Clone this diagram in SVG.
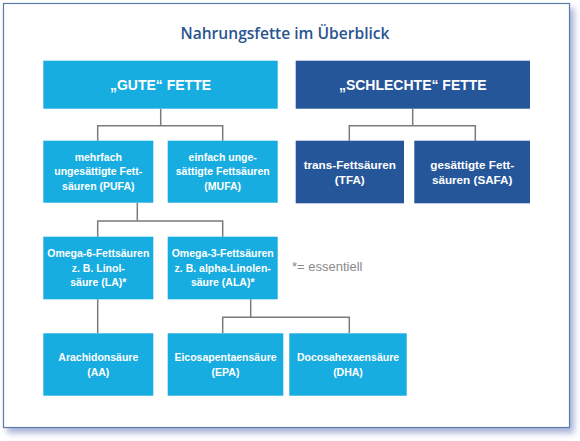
<svg xmlns="http://www.w3.org/2000/svg" width="580" height="441" viewBox="0 0 580 441">
<defs>
<filter id="sh" x="-5%" y="-5%" width="115%" height="115%"><feGaussianBlur stdDeviation="3"/></filter>
<style>
.lb{fill:#17ade0}
.db{fill:#25569a}
.t{font-family:"Liberation Sans",Arial,sans-serif;font-weight:bold;fill:#ffffff;text-anchor:middle}
.h{font-size:14px}
.s{font-size:10.5px}
.m{font-size:11.7px}
.c{fill:none;stroke:#7a7a7a;stroke-width:1.5}
</style>
</defs>
<rect x="7" y="8" width="567" height="425" fill="#a6b1d6" filter="url(#sh)"/>
<rect x="3.5" y="3.5" width="566" height="424" fill="#ffffff" stroke="#5a7db0" stroke-width="1.2"/>
<text x="285" y="39" font-family="'Open Sans','Liberation Sans',sans-serif" font-weight="600" font-size="17" fill="#2b5591" text-anchor="middle" textLength="209" lengthAdjust="spacingAndGlyphs">Nahrungsfette im Überblick</text>
<g id="connectors" class="c">
<path d="M160.7 108.7V125.7M97.7 140.7V125.7H222.7V140.7"/>
<path d="M412.7 108.7V125.7M349.3 140.7V125.7H475.3V140.7"/>
<path d="M137.3 202.7V221M97.7 236.7V221H222.7V236.7"/>
<path d="M97.7 299.3V333.3"/>
<path d="M250.7 299.3V317.3M222.7 333.3V317.3H349.3V333.3"/>
</g>
<g id="gute"><rect class="lb" x="43.3" y="60.7" width="234.4" height="48"/><text class="t h" x="160.5" y="89.5">„GUTE“ FETTE</text></g>
<g id="schlechte"><rect class="db" x="295.7" y="60.7" width="234.3" height="48"/><text class="t h" x="412.8" y="89.5">„SCHLECHTE“ FETTE</text></g>
<g id="pufa"><rect class="lb" x="43.3" y="140.7" width="110" height="62"/><text class="t s" x="98.3" y="160.5">mehrfach<tspan x="98.3" dy="14.5">ungesättigte Fett-</tspan><tspan x="98.3" dy="14.5">säuren (PUFA)</tspan></text></g>
<g id="mufa"><rect class="lb" x="167.7" y="140.7" width="110" height="62"/><text class="t s" x="222.7" y="160.5">einfach unge-<tspan x="222.7" dy="14.5">sättigte Fettsäuren</tspan><tspan x="222.7" dy="14.5">(MUFA)</tspan></text></g>
<g id="tfa"><rect class="db" x="295.7" y="140.7" width="108.3" height="62.6"/><text class="t m" x="349.8" y="169">trans-Fettsäuren<tspan x="349.8" dy="14.5">(TFA)</tspan></text></g>
<g id="safa"><rect class="db" x="414.3" y="140.7" width="115.7" height="62.6"/><text class="t m" x="472.2" y="169">gesättigte Fett-<tspan x="472.2" dy="14.5">säuren (SAFA)</tspan></text></g>
<g id="omega6"><rect class="lb" x="43.3" y="236.7" width="110" height="62.6"/><text class="t s" x="98.3" y="257">Omega-6-Fettsäuren<tspan x="98.3" dy="14.5">z. B. Linol-</tspan><tspan x="98.3" dy="14.5">säure (LA)*</tspan></text></g>
<g id="omega3"><rect class="lb" x="167.7" y="236.7" width="110" height="62.6"/><text class="t s" x="222.7" y="257">Omega-3-Fettsäuren<tspan x="222.7" dy="14.5">z. B. alpha-Linolen-</tspan><tspan x="222.7" dy="14.5">säure (ALA)*</tspan></text></g>
<g id="legend"><text x="292" y="270.7" font-family="'Liberation Sans',Arial,sans-serif" font-size="13" fill="#8a8a8a">*= essentiell</text></g>
<g id="aa"><rect class="lb" x="43.3" y="333.3" width="110" height="62.4"/><text class="t s" x="98.3" y="361">Arachidonsäure<tspan x="98.3" dy="14.5">(AA)</tspan></text></g>
<g id="epa"><rect class="lb" x="167.7" y="333.3" width="115.6" height="62.4"/><text class="t s" x="225.5" y="361">Eicosapentaensäure<tspan x="225.5" dy="14.5">(EPA)</tspan></text></g>
<g id="dha"><rect class="lb" x="289.3" y="333.3" width="117.4" height="62.4"/><text class="t s" x="348" y="361">Docosahexaensäure<tspan x="348" dy="14.5">(DHA)</tspan></text></g>
</svg>
